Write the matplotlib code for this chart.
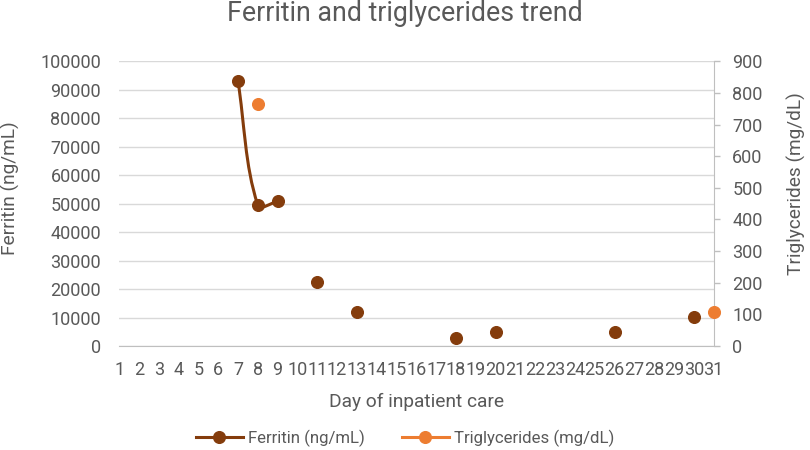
import matplotlib
matplotlib.use("Agg")
import matplotlib.pyplot as plt
from matplotlib.path import Path
from matplotlib.patches import PathPatch
from matplotlib.lines import Line2D
import numpy as np

plt.rcParams['font.family'] = ['Roboto', 'DejaVu Sans']

days = list(range(1, 32))
ferritin_days = [7, 8, 9, 11, 13, 18, 20, 26, 30]
ferritin_vals = [93000, 49500, 50800, 22500, 12000, 3000, 5000, 4900, 10200]
trig_days = [8, 31]
trig_vals = [765, 107]
connected_days = [7, 8, 9]
connected_vals = [93000, 49500, 50800]

ferritin_color = '#843C0C'
trig_color = '#ED7D31'
text_color = '#595959'
grid_color = '#D9D9D9'

fig = plt.figure(figsize=(8.1, 4.5), dpi=100)
ax = fig.add_axes([0.147, 0.231, 0.734, 0.633])
ax2 = ax.twinx()

ax.set_xlim(1, 31)
ax.set_ylim(0, 100000)
ax2.set_ylim(0, 900)

# smoothed line through the connected points (length-scaled tangents in screen space)
pts = ax.transData.transform(np.column_stack([connected_days, connected_vals]).astype(float))
n = len(pts)
tang = []
for i in range(n):
    if i == 0:
        t = pts[1] - pts[0]
    elif i == n - 1:
        t = pts[-1] - pts[-2]
    else:
        t = pts[i + 1] - pts[i - 1]
    tang.append(t / np.hypot(*t))
verts = [pts[0]]
codes = [Path.MOVETO]
for i in range(n - 1):
    d = np.hypot(*(pts[i + 1] - pts[i]))
    verts += [pts[i] + tang[i] * d / 3, pts[i + 1] - tang[i + 1] * d / 3, pts[i + 1]]
    codes += [Path.CURVE4] * 3
verts = ax.transData.inverted().transform(np.array(verts))
ax.add_patch(PathPatch(Path(verts, codes), facecolor='none', edgecolor=ferritin_color,
                       lw=2.2, capstyle='round', joinstyle='round', zorder=3))
ax.plot(ferritin_days, ferritin_vals, linestyle='none', marker='o', ms=8.4,
        color=ferritin_color, zorder=4)
ax2.plot(trig_days, trig_vals, linestyle='none', marker='o', ms=8.4,
         color=trig_color, zorder=4, clip_on=False)

ax.set_xticks(days)
ax.set_xticklabels([str(d) for d in days])
ax.set_yticks(np.arange(0, 100001, 10000))
ax2.set_yticks(np.arange(0, 901, 100))

ax.grid(axis='y', color=grid_color, lw=1)
ax.set_axisbelow(True)
for a in (ax, ax2):
    for s in ('top', 'left', 'right', 'bottom'):
        a.spines[s].set_visible(False)
ax.spines['bottom'].set_visible(True)
ax.spines['bottom'].set_color('#BFBFBF')
ax2.spines['right'].set_visible(True)
ax2.spines['right'].set_color('#BFBFBF')

tick_fs = 13
ax.tick_params(axis='x', length=0, pad=11, labelsize=tick_fs, labelcolor=text_color)
ax.tick_params(axis='y', length=0, pad=13, labelsize=tick_fs, labelcolor=text_color)
ax2.tick_params(axis='y', length=4.5, width=1, color='#BFBFBF', pad=9, labelsize=tick_fs,
                labelcolor=text_color)

label_fs = 13.8
ax.set_xlabel('Day of inpatient care', fontsize=label_fs, color=text_color)
ax.xaxis.set_label_coords(0.5, -0.165)
ax.set_ylabel('Ferritin (ng/mL)', fontsize=label_fs, color=text_color)
ax.yaxis.set_label_coords((20 - 119) / 595, 0.554)
ax2.set_ylabel('Triglycerides (mg/dL)', fontsize=label_fs, color=text_color)
ax2.yaxis.set_label_coords((787 - 119) / 595, 0.572)

fig.text(0.5, 0.969, 'Ferritin and triglycerides trend', ha='center', va='center',
         fontsize=19.3, color=text_color)

handles = [Line2D([], [], color=ferritin_color, lw=2.2, marker='o', ms=8.4),
           Line2D([], [], color=trig_color, lw=2.2, marker='o', ms=8.4)]
fig.legend(handles, ['Ferritin (ng/mL)', 'Triglycerides (mg/dL)'], loc='center',
           bbox_to_anchor=(0.5, 0.026), ncol=2, frameon=False, fontsize=12.1,
           labelcolor=text_color, handlelength=2.8, columnspacing=2.2, handletextpad=0.3)

fig.savefig('out.png', dpi=100, facecolor='white')
